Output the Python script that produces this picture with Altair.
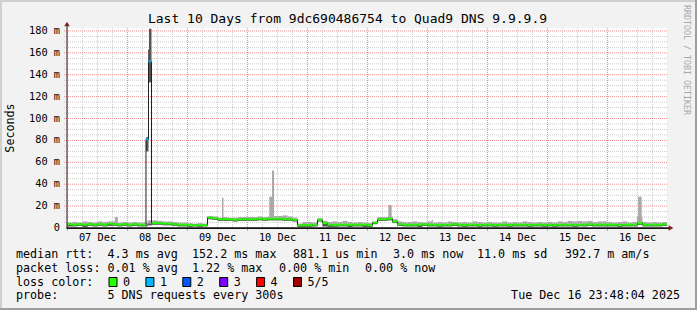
import altair as alt
import pandas as pd

# ---------------- data ----------------
day_labels = ["07 Dec", "08 Dec", "09 Dec", "10 Dec", "11 Dec",
              "12 Dec", "13 Dec", "14 Dec", "15 Dec", "16 Dec"]
y_ticks_ms = [0, 20, 40, 60, 80, 100, 120, 140, 160, 180]
y_tick_labels = ["0\u00a0\u00a0", "20 m", "40 m", "60 m", "80 m",
                 "100 m", "120 m", "140 m", "160 m", "180 m"]

# x in days since 07 Dec 00:00; window ends Tue Dec 16 23:48:04 (10 days)
X_START = -0.00829
X_END = 9.99171
Y_MAX = 182.7

# 2-hour bins starting 07 Dec 00:00, values in ms
median_ms = [
    3.5, 3.0, 3.5, 3.0, 3.5, 3.0, 3.5, 3.0, 4.0, 3.5, 3.0, 3.5,
    3.0, 3.5, 3.0, 3.0, 4.0, 4.5, 4.5, 4.0, 4.0, 3.5, 3.0, 3.0,
    2.5, 2.5, 2.5, 2.5, 9.5, 9.0, 8.0, 8.0, 8.0, 7.5, 8.0, 8.0,
    8.0, 8.0, 8.5, 8.0, 8.5, 8.5, 8.5, 8.0, 8.0, 7.5, 2.5, 2.5,
    2.5, 3.0, 7.5, 4.5, 3.0, 2.5, 3.0, 3.0, 3.0, 3.0, 3.0, 3.0,
    2.5, 5.0, 8.0, 8.0, 8.5, 6.0, 3.5, 3.0, 3.0, 3.0, 3.0, 3.5,
    3.0, 3.0, 2.5, 3.0, 3.0, 3.5, 3.0, 2.5, 3.0, 3.0, 2.5, 3.0,
    3.0, 2.5, 3.0, 3.0, 2.5, 3.0, 3.0, 3.0, 2.5, 3.0, 3.0, 2.5,
    3.0, 2.5, 3.0, 3.0, 3.0, 2.5, 3.0, 3.0, 3.5, 3.0, 3.0, 3.0,
    3.0, 3.0, 2.5, 3.0, 3.0, 3.0, 4.5, 3.0, 3.0, 3.0, 3.0, 3.5,
]
smoke_lo_ms = [
    1.5, 1.5, 2.0, 1.0, 2.0, 1.5, 2.0, 1.5, 2.0, 2.0, 1.5, 2.0,
    1.5, 2.0, 1.5, 1.5, 2.5, 3.0, 3.0, 2.5, 2.5, 2.0, 1.5, 1.5,
    1.0, 1.5, 1.0, 1.5, 8.0, 7.5, 6.5, 6.5, 6.5, 6.0, 6.5, 6.5,
    6.5, 6.5, 7.0, 6.5, 7.0, 7.0, 7.0, 6.5, 6.5, 6.0, 1.0, 1.0,
    1.0, 1.5, 6.0, 1.5, 1.0, 1.0, 1.5, 1.5, 1.0, 1.5, 1.5, 1.0,
    1.0, 3.5, 6.5, 6.5, 7.0, 4.5, 2.0, 1.5, 1.5, 1.5, 1.0, 2.0,
    1.5, 1.5, 1.0, 1.5, 1.5, 2.0, 1.5, 1.0, 1.5, 1.5, 1.0, 1.5,
    1.5, 1.0, 1.5, 1.5, 1.0, 1.5, 1.5, 1.5, 1.0, 1.5, 1.5, 1.0,
    1.5, 1.0, 1.5, 1.5, 1.5, 1.0, 1.5, 1.5, 2.0, 1.5, 1.5, 1.5,
    1.5, 1.5, 1.0, 1.5, 1.5, 1.5, 3.0, 1.5, 1.5, 1.5, 1.5, 2.0,
]
smoke_hi_ms = [
    5.0, 5.5, 5.0, 6.0, 5.5, 5.0, 6.0, 5.5, 6.0, 6.0, 5.0, 5.5,
    5.0, 5.5, 5.0, 5.0, 7.0, 7.0, 6.5, 6.0, 6.0, 5.5, 5.0, 5.0,
    4.5, 4.0, 4.5, 4.0, 11.0, 10.5, 9.5, 10.0, 9.5, 9.5, 10.0, 10.0,
    10.0, 10.0, 10.5, 10.0, 10.5, 11.0, 11.0, 11.5, 10.5, 9.5, 4.0, 5.5,
    5.5, 5.0, 9.0, 6.5, 5.5, 6.0, 5.5, 6.5, 5.5, 5.0, 5.5, 5.0,
    4.5, 6.0, 10.0, 10.0, 10.5, 8.0, 6.0, 5.5, 5.5, 6.0, 5.5, 5.0,
    6.0, 5.0, 5.5, 5.0, 6.0, 5.5, 5.0, 5.5, 5.0, 6.0, 5.5, 5.0,
    5.5, 5.0, 5.0, 6.0, 5.0, 5.5, 5.0, 6.0, 5.5, 5.0, 5.5, 5.0,
    5.5, 5.0, 6.0, 5.5, 6.5, 6.0, 6.5, 6.0, 6.5, 5.5, 6.0, 6.0,
    5.5, 5.0, 5.5, 6.0, 5.0, 5.5, 10.0, 5.5, 5.0, 5.5, 5.0, 5.5,
]
median_loss = [0] * 120

# narrow smoke spikes (days since 07 Dec 00:00, ms)
spike_start_day = [0.79, 1.308, 1.342, 1.358, 2.575, 3.363, 3.408, 5.347, 6.070, 9.490, 9.510]
spike_end_day   = [0.84, 1.350, 1.358, 1.400, 2.600, 3.442, 3.442, 5.403, 6.090, 9.570, 9.570]
spike_lo_ms     = [5.0, 70.0, 133.0, 133.0, 9.0, 10.0, 28.0, 10.0, 5.0, 5.0, 10.0]
spike_hi_ms     = [10.0, 83.0, 163.0, 182.0, 27.7, 28.6, 52.4, 21.0, 7.5, 10.3, 28.6]
spike_dark      = [0, 1, 1, 1, 0, 0, 0, 0, 0, 0, 0]

# median during the 08 Dec outage (with 1/5 loss)
spike_med_start = [1.308, 1.350]
spike_med_end = [1.350, 1.400]
spike_med_ms = [81.0, 152.2]
spike_med_loss = [1, 1]

loss_labels = ["0", "1", "2", "3", "4", "5/5"]
loss_colors = ["#26ff00", "#00b8ff", "#0059ff", "#7e00ff", "#ff0000", "#a10000"]

title_text = "Last 10 Days from 9dc690486754 to Quad9 DNS 9.9.9.9"
rtt_line = [("median rtt:", 16), ("4.3 ms avg", 107.5), ("152.2 ms max", 192),
            ("881.1 us min", 293), ("3.0 ms now", 393), ("11.0 ms sd", 477),
            ("392.7 m am/s", 565)]
loss_line = [("packet loss:", 16), ("0.01 % avg", 107.5), ("1.22 % max", 192),
             ("0.00 % min", 279), ("0.00 % now", 365)]
probe_text = "5 DNS requests every 300s"
date_text = "Tue Dec 16 23:48:04 2025"

# ---------------- tables ----------------
BIN = 1.0 / 12.0
bins_df = pd.DataFrame({
    "start": [i * BIN for i in range(len(median_ms))],
    "end": [(i + 1) * BIN for i in range(len(median_ms))],
    "median": median_ms, "lo": smoke_lo_ms, "hi": smoke_hi_ms,
})
spikes_df = pd.DataFrame({"start": spike_start_day, "end": spike_end_day,
                          "lo": spike_lo_ms, "hi": spike_hi_ms, "dark": spike_dark})

segs = [[i * BIN, (i + 1) * BIN, v, l] for i, (v, l) in enumerate(zip(median_ms, median_loss))]
for s, e, v, l in zip(spike_med_start, spike_med_end, spike_med_ms, spike_med_loss):
    new = []
    for a, b, mv, ml in segs:
        if b <= s or a >= e:
            new.append([a, b, mv, ml])
        else:
            if a < s:
                new.append([a, s, mv, ml])
            if b > e:
                new.append([e, b, mv, ml])
    new.append([s, e, v, l])
    segs = sorted(new)
segs_df = pd.DataFrame(segs, columns=["start", "end", "ms", "loss"])
segs_df["col"] = [loss_colors[int(l)] for l in segs_df["loss"]]
line_df = pd.DataFrame({"d": [s[0] for s in segs] + [segs[-1][1]],
                        "ms": [s[2] for s in segs] + [segs[-1][2]]})
xlab_df = pd.DataFrame({"d": [i + 0.5 for i in range(len(day_labels))], "label": day_labels})
ylab_df = pd.DataFrame({"v": y_ticks_ms, "label": y_tick_labels})

# grid positions (time every 6 h, value every 5 ms)
GRID = "#cdcdcd"
MGRID = "#ec8f8f"
vgrid_df = pd.DataFrame({"gd": [q / 4 for q in range(0, 40)],
                         "gc": [MGRID if q % 4 == 0 else GRID for q in range(0, 40)]})
hgrid_df = pd.DataFrame({"gv": [5 * k for k in range(1, 37)],
                         "gc": [MGRID if k % 4 == 0 else GRID for k in range(1, 37)]})
dayticks_df = pd.DataFrame({"td": [float(k) for k in range(0, 10)]})

MONO = "DejaVu Sans Mono"
OX, OY = 67, 28  # plot origin on the page

xs = alt.Scale(domain=[X_START, X_END], nice=False, zero=False)
ys = alt.Scale(domain=[0, Y_MAX], nice=False, zero=True)

vgrid = alt.Chart(vgrid_df).mark_rule(strokeDash=[1, 1], strokeWidth=1).encode(
    x=alt.X("gd:Q", scale=xs, axis=None), y=alt.value(0), y2=alt.value(200),
    stroke=alt.Stroke("gc:N", scale=None))
hgrid = alt.Chart(hgrid_df).mark_rule(strokeDash=[1, 1], strokeWidth=1).encode(
    y=alt.Y("gv:Q", scale=ys, axis=None), x=alt.value(-3), x2=alt.value(600),
    stroke=alt.Stroke("gc:N", scale=None))
dayticks = alt.Chart(dayticks_df).mark_rule(strokeWidth=1, color=MGRID).encode(
    x=alt.X("td:Q", scale=xs, axis=None), y=alt.value(200), y2=alt.value(203))

LIGHT = "#a9a9a9"
DARK = "#555555"
smoke_light = alt.Chart(bins_df).mark_rect(color=LIGHT, clip=True).encode(
    x=alt.X("start:Q", scale=xs, axis=None), x2="end:Q",
    y=alt.Y("lo:Q", scale=ys, axis=None), y2="hi:Q")
spikes = alt.Chart(spikes_df).mark_rect(clip=True).encode(
    x=alt.X("start:Q", scale=xs, axis=None), x2="end:Q",
    y=alt.Y("lo:Q", scale=ys, axis=None), y2="hi:Q",
    fill=alt.condition("datum.dark == 1", alt.value(DARK), alt.value(LIGHT)))
smoke_dark = alt.Chart(bins_df).mark_rect(color=DARK, clip=True).encode(
    x=alt.X("start:Q", scale=xs, axis=None), x2="end:Q",
    y=alt.Y("lo:Q", scale=ys, axis=None), y2="median:Q")
med_line = alt.Chart(line_df).mark_line(interpolate="step-after", color="#1f1f1f",
                                        strokeWidth=1, clip=True).encode(
    x=alt.X("d:Q", scale=xs, axis=None), y=alt.Y("ms:Q", scale=ys, axis=None))
med_col = alt.Chart(segs_df).mark_rule(strokeWidth=2, clip=True).encode(
    x=alt.X("start:Q", scale=xs, axis=None), x2="end:Q",
    y=alt.Y("ms:Q", scale=ys, axis=None),
    stroke=alt.Stroke("col:N", scale=None))

# axis labels
x_labels = alt.Chart(xlab_df).mark_text(
    font=MONO, fontSize=10.3, color="#000000", baseline="middle", align="center").encode(
    x=alt.X("d:Q", scale=xs, axis=None), y=alt.value(210), text="label:N")
y_labels = alt.Chart(ylab_df).mark_text(
    font=MONO, fontSize=10.3, color="#000000", baseline="middle", align="right").encode(
    y=alt.Y("v:Q", scale=ys, axis=None), x=alt.value(-7), text="label:N")

one = pd.DataFrame({"k": [0]})


def txt(s, ax, ay, size=11.7, align="left", angle=0, color="#000000"):
    kw = dict(text=s, font=MONO, fontSize=size, align=align, baseline="middle", color=color)
    if angle:
        kw["angle"] = angle
    return alt.Chart(one).mark_text(**kw).encode(x=alt.value(ax - OX), y=alt.value(ay - OY))


def rect(x1, y1, x2, y2, fill, stroke=None):
    kw = dict(color=fill)
    if stroke:
        kw.update(stroke=stroke, strokeWidth=1)
    return alt.Chart(one).mark_rect(**kw).encode(
        x=alt.value(x1 - OX), x2=alt.value(x2 - OX), y=alt.value(y1 - OY), y2=alt.value(y2 - OY))


deco = []
# axis lines
deco.append(rect(66.5, 24, 67.5, 228, "#3a1f1f"))
deco.append(rect(66.5, 227.3, 669, 229, "#111111"))
# frame shading
deco.append(rect(0, 0, 697, 2, "#cfcfcf"))
deco.append(rect(0, 0, 2, 310, "#cfcfcf"))
deco.append(rect(0, 308, 697, 310, "#9e9e9e"))
deco.append(rect(695, 0, 697, 310, "#9e9e9e"))

# arrows
deco.append(alt.Chart(one).mark_point(shape="triangle-up", filled=True, color="#801f1f",
                                      size=30, opacity=1).encode(
    x=alt.value(0), y=alt.value(-4)))
deco.append(alt.Chart(one).mark_point(shape="triangle-right", filled=True, color="#801f1f",
                                      size=30, opacity=1).encode(
    x=alt.value(604), y=alt.value(200)))

deco.append(txt(title_text, 347.5, 19, size=13, align="center"))
deco.append(txt("Seconds", 10, 128, size=11.7, align="center", angle=270))
deco.append(txt("RRDTOOL / TOBI OETIKER", 686, 60, size=8.3, align="center", angle=90,
                color="#a8a8a8"))
for s, x in rtt_line:
    deco.append(txt(s, x, 254))
for s, x in loss_line:
    deco.append(txt(s, x, 268))
deco.append(txt("loss color:", 16, 281.5))
for i, (lab, col) in enumerate(zip(loss_labels, loss_colors)):
    bx = 109 + 36.9 * i
    deco.append(rect(bx, 277.5, bx + 8, 286.5, col, stroke="#000000"))
    deco.append(txt(lab, bx + 14, 281.5))
deco.append(txt("probe:", 16, 295))
deco.append(txt(probe_text, 107.5, 295))
deco.append(txt(date_text, 680, 295, align="right"))

chart = alt.layer(
    vgrid, hgrid, dayticks,
    smoke_light, spikes, smoke_dark, med_line, med_col,
    x_labels, y_labels,
    *deco
).properties(
    width=600, height=200,
    padding={"left": OX, "top": OY, "right": 697 - OX - 600, "bottom": 310 - OY - 200},
    autosize=alt.AutoSizeParams(type="none"),
    background="#f2f2f2",
).configure_view(stroke=None, fill="#ffffff")

chart.save("out.html", embed_options={"renderer": "svg", "actions": False})
